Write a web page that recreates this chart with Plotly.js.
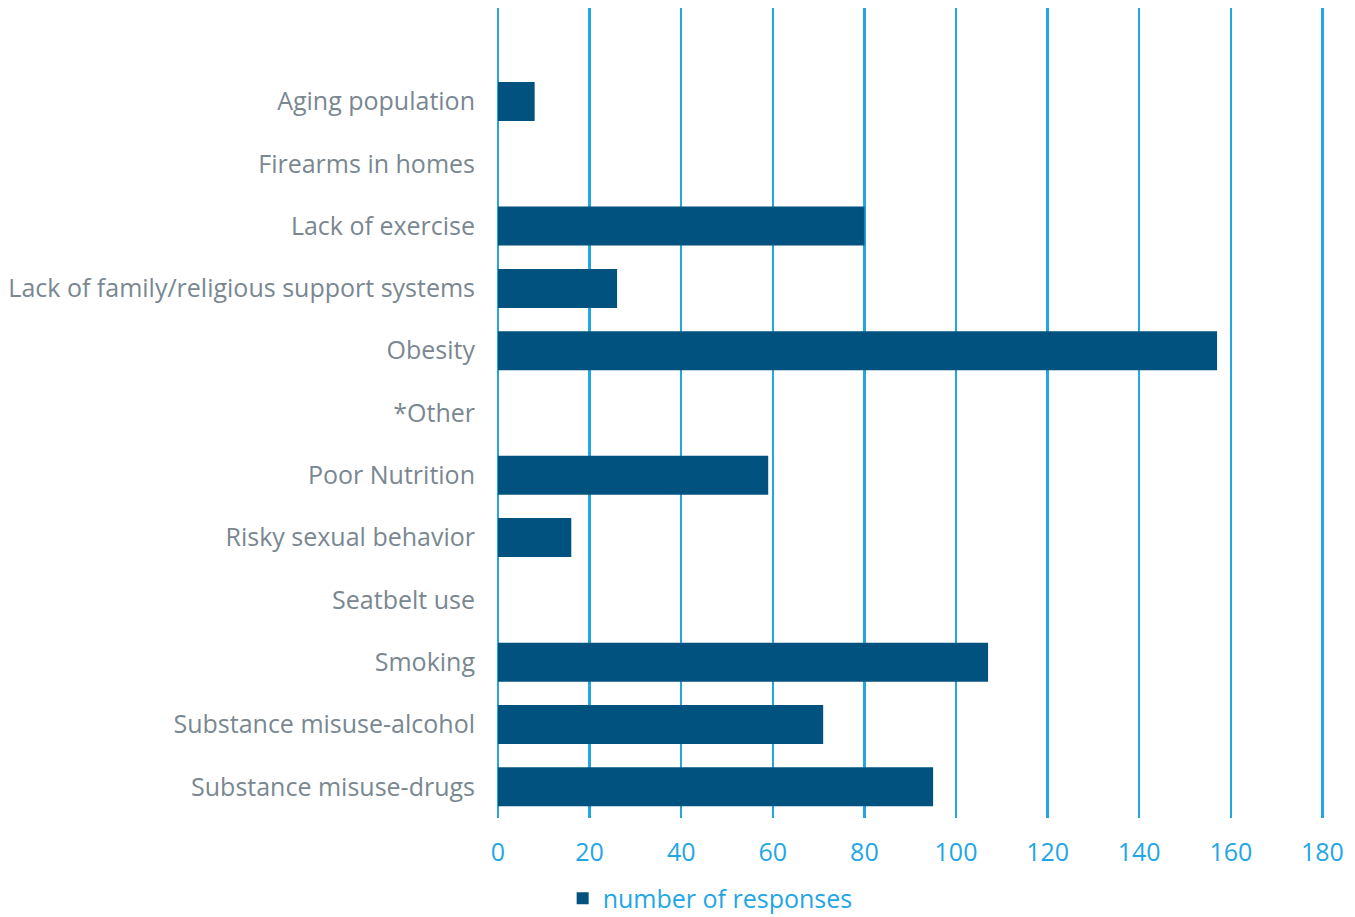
<!DOCTYPE html>
<html>
<head>
<meta charset="utf-8">
<script src="https://cdn.plot.ly/plotly-3.0.1.min.js"></script>
<style>html,body{margin:0;padding:0;background:#fff;}#chart{width:1355px;height:917px;}</style>
</head>
<body>
<div id="chart"></div>
<script>
const categories = [
  "Aging population",
  "Firearms in homes",
  "Lack of exercise",
  "Lack of family/religious support systems",
  "Obesity",
  "*Other",
  "Poor Nutrition",
  "Risky sexual behavior",
  "Seatbelt use",
  "Smoking",
  "Substance misuse-alcohol",
  "Substance misuse-drugs"
];
const responses = [8, 0, 80, 26, 157, 0, 59, 16, 0, 107, 71, 95];
const xTicks = [0, 20, 40, 60, 80, 100, 120, 140, 160, 180];
const seriesName = "number of responses";

const FONT = "'Open Sans', Lato, sans-serif";
const BLUE = "#1fa6e6";
const GRID = "#22a7e0";

Plotly.newPlot("chart", [{
  type: "bar",
  orientation: "h",
  y: categories,
  x: responses,
  name: seriesName,
  marker: {color: "#01527f"},
  hoverinfo: "x+y"
}], {
  width: 1355,
  height: 917,
  margin: {l: 498, r: 28, t: 8, b: 99, autoexpand: false},
  paper_bgcolor: "#fff",
  plot_bgcolor: "#fff",
  bargap: 0.374,
  font: {family: FONT},
  showlegend: true,
  legend: {
    orientation: "h",
    x: 0.078, xanchor: "left",
    y: -0.071, yanchor: "top",
    font: {family: FONT, size: 25, color: BLUE},
    bgcolor: "rgba(0,0,0,0)"
  },
  xaxis: {
    range: [0, 181],
    tickvals: xTicks,
    ticktext: xTicks.map(String),
    showgrid: true,
    gridcolor: GRID,
    gridwidth: 2.5,
    zeroline: true,
    zerolinecolor: GRID,
    zerolinewidth: 2.5,
    showline: false,
    ticks: "",
    ticklabelstandoff: 17,
    tickfont: {family: FONT, size: 25, color: BLUE},
    fixedrange: true
  },
  yaxis: {
    type: "category",
    categoryorder: "array",
    categoryarray: categories,
    range: [11.5, -1.5],
    showgrid: false,
    zeroline: false,
    showline: false,
    ticks: "",
    ticklabelstandoff: 22,
    tickfont: {family: FONT, size: 25, color: "#7a8791"},
    fixedrange: true
  }
}, {displayModeBar: false, staticPlot: true});
</script>
</body>
</html>
